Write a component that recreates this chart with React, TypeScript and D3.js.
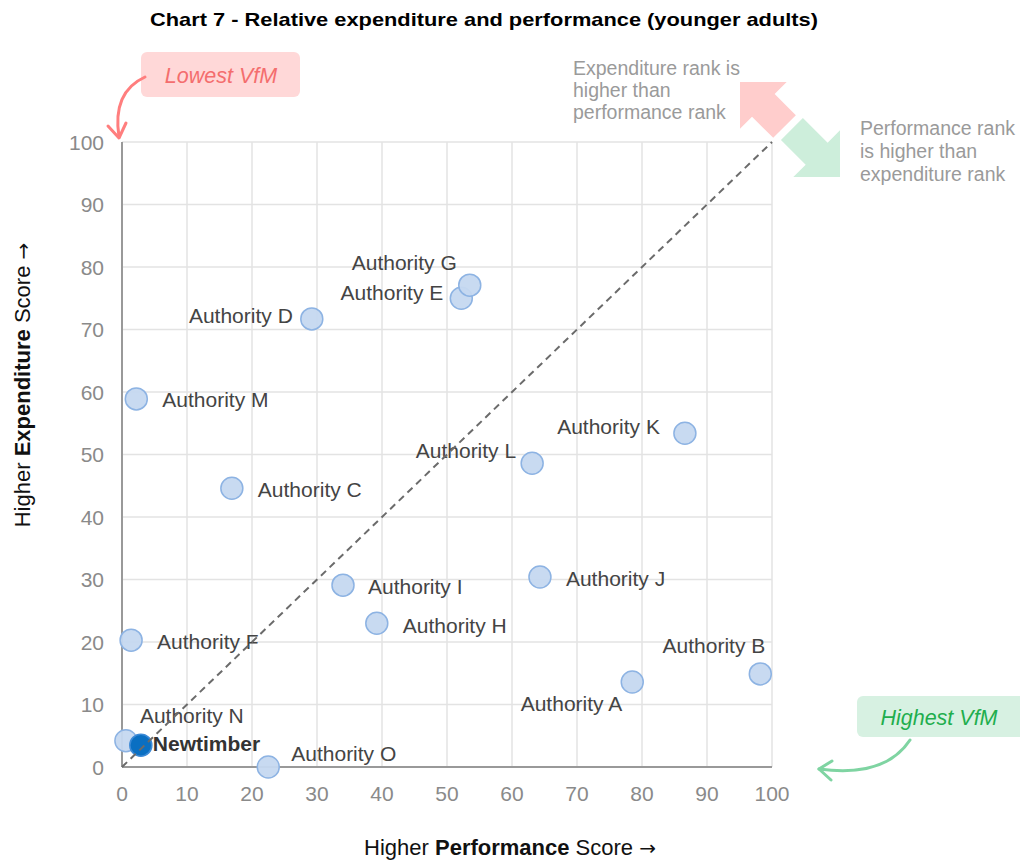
import React from "react";
import * as d3 from "d3";

const names = [
  "Authority A", "Authority B", "Authority C", "Authority D", "Authority E",
  "Authority F", "Authority G", "Authority H", "Authority I", "Authority J",
  "Authority K", "Authority L", "Authority M", "Authority N", "Authority O", "Newtimber",
];
const performance = [78.5, 98.2, 16.9, 29.2, 52.2, 1.4, 53.5, 39.2, 34.0, 64.3, 86.6, 63.1, 2.2, 0.6, 22.5, 2.9];
const expenditure = [13.6, 14.9, 44.6, 71.7, 75.0, 20.3, 77.1, 23.0, 29.1, 30.4, 53.4, 48.6, 58.9, 4.2, 0.0, 3.5];
const highlight = "Newtimber";
const xTicks = [0, 10, 20, 30, 40, 50, 60, 70, 80, 90, 100];
const yTicks = [0, 10, 20, 30, 40, 50, 60, 70, 80, 90, 100];

// label placement (anchor, dx, dy relative to point centre)
const labelPlacement: Record<string, [string, number, number]> = {
  "Authority A": ["end", -10, 21],
  "Authority B": ["end", 5, -28],
  "Authority C": ["start", 26, 1],
  "Authority D": ["end", -19, -3],
  "Authority E": ["end", -18, -6],
  "Authority F": ["start", 26, 1],
  "Authority G": ["end", -13, -23],
  "Authority H": ["start", 26, 2],
  "Authority I": ["start", 25, 1],
  "Authority J": ["start", 26, 1],
  "Authority K": ["end", -25, -7],
  "Authority L": ["end", -16, -13],
  "Authority M": ["start", 26, 1],
  "Authority N": ["start", 14, -25],
  "Authority O": ["start", 23, -14],
  "Newtimber": ["start", 12, -2],
};

const FONT = "'Liberation Sans', Arial, Helvetica, sans-serif";

function arrowPoly(tx: number, ty: number, ux: number, uy: number, headLen: number, headHalf: number, shaftHalf: number, total: number) {
  const n = Math.hypot(ux, uy);
  ux /= n; uy /= n;
  const px = -uy, py = ux;
  const pt = (a: number, b: number) => `${tx + ux * a + px * b},${ty + uy * a + py * b}`;
  return [
    pt(0, 0), pt(headLen, headHalf), pt(headLen, shaftHalf), pt(total, shaftHalf),
    pt(total, -shaftHalf), pt(headLen, -shaftHalf), pt(headLen, -headHalf),
  ].join(" ");
}

export default function App() {
  const x = d3.scaleLinear().domain([0, 100]).range([122, 772]);
  const y = d3.scaleLinear().domain([0, 100]).range([767, 142]);
  const pts = names.map((n, i) => ({ name: n, px: performance[i], ey: expenditure[i] }));
  const order = [...pts.filter((p) => p.name !== highlight), ...pts.filter((p) => p.name === highlight)];

  return (
    <svg width={1020} height={860} style={{ position: "absolute", left: 0, top: 0, background: "#fff" }} fontFamily={FONT}>
      {/* title */}
      <text x={150} y={26} fontSize={19} fontWeight="bold" fill="#000" textLength={668} lengthAdjust="spacingAndGlyphs">
        Chart 7 - Relative expenditure and performance (younger adults)
      </text>

      {/* grid */}
      {xTicks.map((t) => (
        <line key={"gx" + t} x1={x(t)} x2={x(t)} y1={y(100)} y2={y(0)} stroke="#e3e3e3" strokeWidth={1.5} />
      ))}
      {yTicks.map((t) => (
        <line key={"gy" + t} x1={x(0)} x2={x(100)} y1={y(t)} y2={y(t)} stroke="#e3e3e3" strokeWidth={1.5} />
      ))}
      {/* axes */}
      <line x1={x(0)} x2={x(0)} y1={y(100)} y2={y(0)} stroke="#999" strokeWidth={2} />
      <line x1={x(0)} x2={x(100)} y1={y(0)} y2={y(0)} stroke="#999" strokeWidth={2} />

      {/* tick labels */}
      {yTicks.map((t) => (
        <text key={"ty" + t} x={104} y={y(t)} dy="0.36em" textAnchor="end" fontSize={21} fill="#8a8a8a">{t}</text>
      ))}
      {xTicks.map((t) => (
        <text key={"tx" + t} x={x(t)} y={801} textAnchor="middle" fontSize={21} fill="#8a8a8a">{t}</text>
      ))}

      {/* axis titles */}
      <text x={510} y={855} textAnchor="middle" fontSize={22} fill="#111">
        Higher <tspan fontWeight="bold">Performance</tspan> Score <tspan fontFamily="'DejaVu Sans', sans-serif" fontSize={20}>→</tspan>
      </text>
      <text transform="translate(30,385) rotate(-90)" textAnchor="middle" fontSize={22} fill="#111">
        Higher <tspan fontWeight="bold">Expenditure</tspan> Score <tspan fontFamily="'DejaVu Sans', sans-serif" fontSize={20}>→</tspan>
      </text>

      {/* points */}
      {order.map((p) => {
        const hi = p.name === highlight;
        return (
          <circle key={"c" + p.name} cx={x(p.px)} cy={y(p.ey)} r={11}
            fill={hi ? "#0a6fc2" : "#c5d8f0"} fillOpacity={hi ? 1 : 0.95}
            stroke={hi ? "#3d8ad6" : "#8db3e3"} strokeWidth={1.5} />
        );
      })}

      {/* labels */}
      {pts.map((p) => {
        const [anchor, dx, dy] = labelPlacement[p.name];
        const hi = p.name === highlight;
        return (
          <text key={"l" + p.name} x={x(p.px) + dx} y={y(p.ey) + dy} dy="0.36em" textAnchor={anchor}
            fontSize={21} fill={hi ? "#333" : "#444"} fontWeight={hi ? "bold" : "normal"}>
            {p.name}
          </text>
        );
      })}

      {/* diagonal */}
      <line x1={x(0)} y1={y(0)} x2={x(100)} y2={y(100)} stroke="#6b6b6b" strokeWidth={2} strokeDasharray="7,5" />

      {/* direction arrows */}
      <polygon points={arrowPoly(740, 82, 1, 1, 33, 33, 16, 63)} fill="#ffcdcc" />
      <polygon points={arrowPoly(840, 177, -1, -1, 33, 33, 15.5, 68)} fill="#cdeedb" />
      <text fontSize={19.5} fill="#9a9a9a">
        <tspan x={573} y={75}>Expenditure rank is</tspan>
        <tspan x={573} y={97}>higher than</tspan>
        <tspan x={573} y={119}>performance rank</tspan>
      </text>
      <text fontSize={19.5} fill="#9a9a9a">
        <tspan x={860} y={135}>Performance rank</tspan>
        <tspan x={860} y={158}>is higher than</tspan>
        <tspan x={860} y={181}>expenditure rank</tspan>
      </text>

      {/* Lowest VfM */}
      <rect x={141} y={52} width={159} height={45} rx={6} fill="#ffd8d8" />
      <text x={221} y={75} dy="0.36em" textAnchor="middle" fontSize={21.5} fontStyle="italic" fill="#f46e6e">Lowest VfM</text>
      <path d="M145,77 Q112,92 119,137" fill="none" stroke="#ff7e7e" strokeWidth={3} strokeLinecap="round" />
      <polyline points="108,126 119,138 126,123" fill="none" stroke="#ff7e7e" strokeWidth={3} strokeLinecap="round" strokeLinejoin="round" />

      {/* Highest VfM */}
      <rect x={857} y={696} width={170} height={41} rx={6} fill="#d7f1e2" />
      <text x={939} y={717} dy="0.36em" textAnchor="middle" fontSize={21.5} fontStyle="italic" fill="#1fae4e">Highest VfM</text>
      <path d="M910,740 Q885,778 819,769" fill="none" stroke="#7fd4a2" strokeWidth={3} strokeLinecap="round" />
      <polyline points="832,761 819,769 831,780" fill="none" stroke="#7fd4a2" strokeWidth={3} strokeLinecap="round" strokeLinejoin="round" />
    </svg>
  );
}
